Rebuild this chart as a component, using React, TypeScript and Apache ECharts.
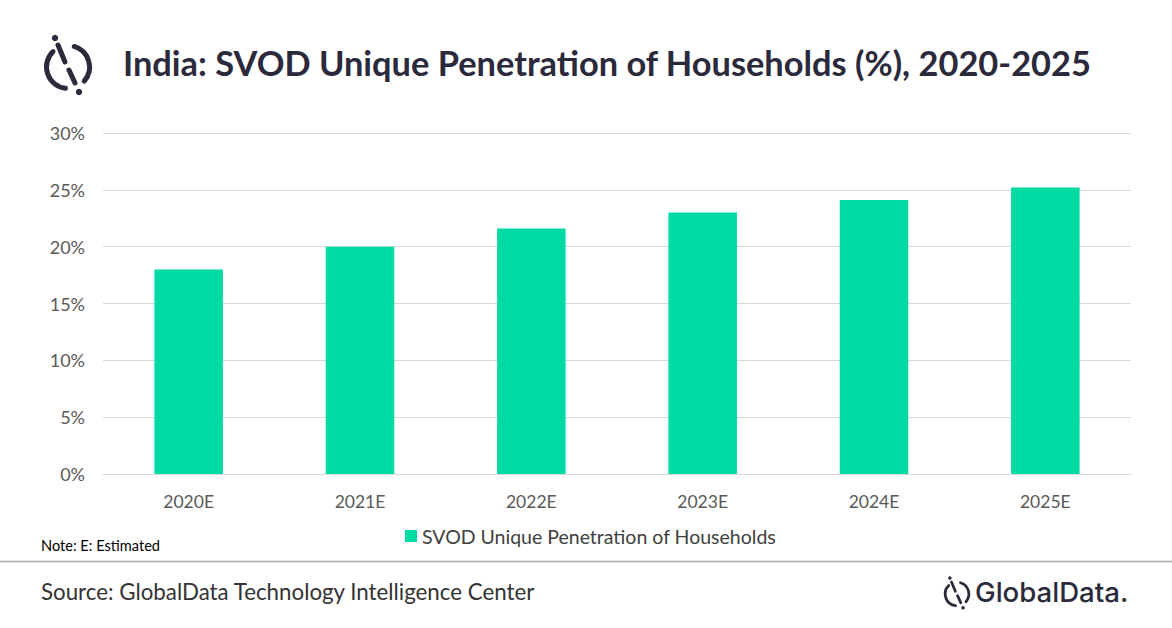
import React, { useEffect, useRef } from "react";
import * as echarts from "echarts";

const categories = ["2020E", "2021E", "2022E", "2023E", "2024E", "2025E"];
const penetration = [18.0, 20.0, 21.6, 23.0, 24.1, 25.2];
const seriesName = "SVOD Unique Penetration of Households";
const titleText = "India: SVOD Unique Penetration of Households (%), 2020-2025";
const noteText = "Note: E: Estimated";
const sourceText = "Source: GlobalData Technology Intelligence Center";
const brandText = "GlobalData.";

const DARK = "#2a2a3c";
const deg = (d: number) => (d * Math.PI) / 180;

function logo(x: number, y: number, s: number) {
  const w = 5 * s;
  const ls = { stroke: DARK, lineWidth: w, lineCap: "round", fill: "none" };
  return {
    type: "group",
    x,
    y,
    children: [
      { type: "arc", shape: { cx: 0, cy: 0, r: 21.5 * s, startAngle: deg(97), endAngle: deg(226), clockwise: true }, style: ls },
      { type: "arc", shape: { cx: 0, cy: 0, r: 21.5 * s, startAngle: deg(287), endAngle: deg(401), clockwise: true }, style: ls },
      { type: "line", shape: { x1: -10 * s, y1: -22 * s, x2: -3 * s, y2: -5 * s }, style: ls },
      { type: "line", shape: { x1: 1 * s, y1: 3 * s, x2: 7 * s, y2: 16 * s }, style: ls },
      { type: "circle", shape: { cx: -13 * s, cy: -29 * s, r: 3.2 * s }, style: { fill: DARK } },
      { type: "circle", shape: { cx: 11 * s, cy: 25 * s, r: 3.2 * s }, style: { fill: DARK } },
    ],
  };
}

export default function App() {
  const ref = useRef<HTMLDivElement>(null);
  useEffect(() => {
    document.body.style.margin = "0";
    const chart = echarts.init(ref.current!, undefined, { renderer: "svg" });
    chart.setOption({
      animation: false,
      backgroundColor: "#ffffff",
      textStyle: { fontFamily: "Lato, 'Open Sans', sans-serif" },
      grid: { left: 103, right: 41, top: 133, bottom: 154 },
      xAxis: {
        type: "category",
        data: categories,
        axisTick: { show: false },
        axisLine: { lineStyle: { color: "#d9d9d9", width: 1 } },
        axisLabel: { color: "#595959", fontSize: 17.5, margin: 18, fontFamily: "Lato, sans-serif" },
      },
      yAxis: {
        type: "value",
        min: 0,
        max: 30,
        interval: 5,
        axisLabel: { formatter: "{value}%", color: "#595959", fontSize: 18, margin: 18, fontFamily: "Lato, sans-serif" },
        splitLine: { lineStyle: { color: "#d9d9d9", width: 1 } },
        axisLine: { show: false },
        axisTick: { show: false },
      },
      legend: {
        data: [seriesName],
        left: 400,
        top: 521,
        icon: "rect",
        itemWidth: 12,
        itemHeight: 12,
        itemGap: 6,
        textStyle: { color: "#404040", fontSize: 19.5, fontFamily: "Lato, sans-serif" },
      },
      series: [
        {
          name: seriesName,
          type: "bar",
          data: penetration,
          barWidth: "40%",
          itemStyle: { color: "#00dba4" },
        },
      ],
      graphic: [
        logo(68, 67, 1),
        {
          type: "text",
          left: 123,
          top: 45,
          style: { text: titleText, fill: DARK, font: "bold 34.4px Lato, sans-serif" },
        },
        {
          type: "text",
          left: 41,
          top: 538,
          style: { text: noteText, fill: "#000000", font: "14.6px Lato, sans-serif" },
        },
        {
          type: "line",
          shape: { x1: 0, y1: 561.5, x2: 1172, y2: 561.5 },
          style: { stroke: "#a6a6a6", lineWidth: 1.5 },
        },
        {
          type: "text",
          left: 41,
          top: 580,
          style: { text: sourceText, fill: "#333333", font: "22.3px Lato, sans-serif" },
        },
        logo(957, 594, 0.55),
        {
          type: "text",
          left: 975,
          top: 578,
          style: { text: brandText, fill: DARK, font: "500 27.6px Inter, sans-serif" },
        },
      ],
    });
    return () => chart.dispose();
  }, []);
  return <div ref={ref} style={{ position: "fixed", left: 0, top: 0, width: 1172, height: 628 }} />;
}
